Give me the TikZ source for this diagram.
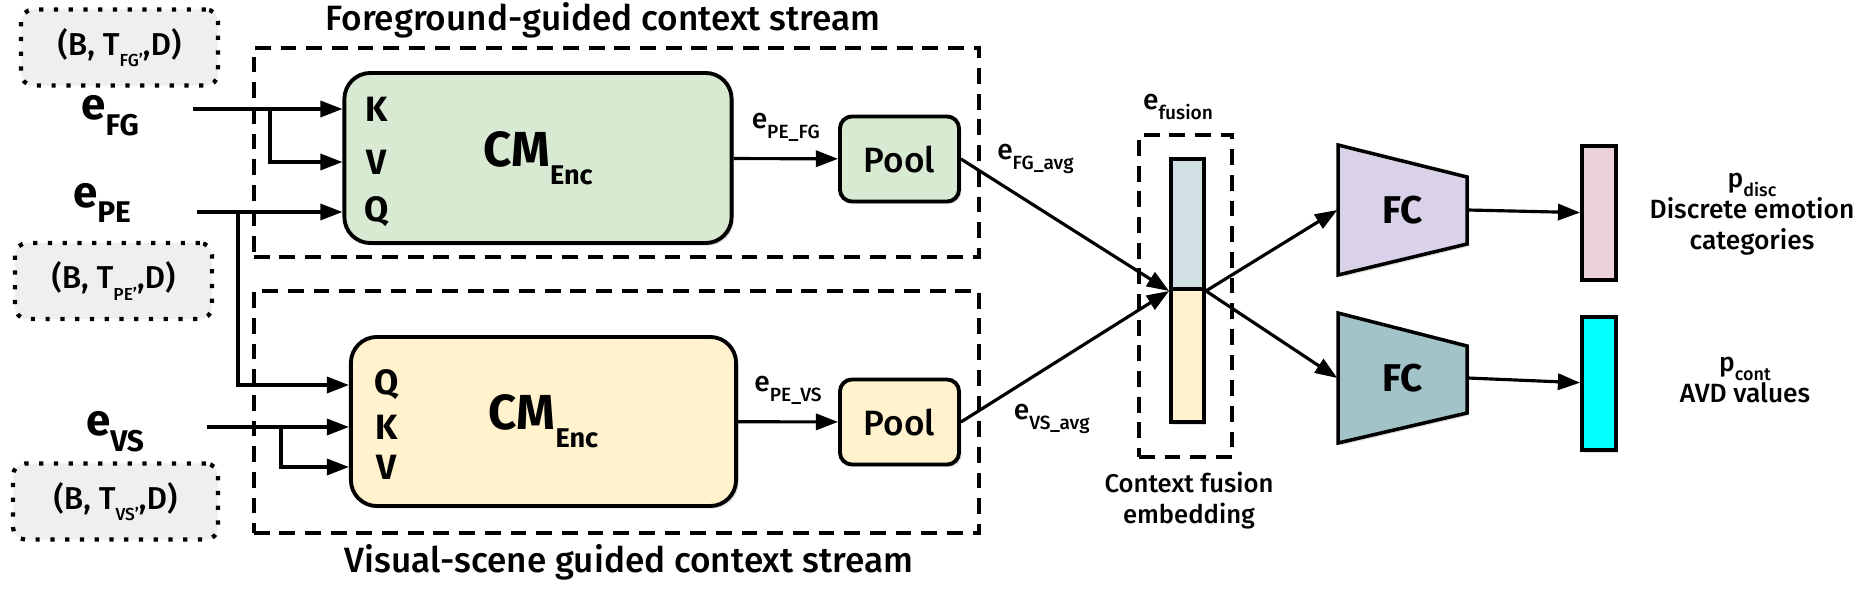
\documentclass[tikz,border=0pt]{standalone}
\usepackage{fontspec}
\setmainfont{Fira Sans Medium}[BoldFont={Fira Sans Bold}]
\usepackage{graphicx}
\usepackage{xcolor}
\usepackage{tikz}
\usetikzlibrary{arrows.meta,shadows}
\definecolor{encgreen}{HTML}{D9EAD3}
\definecolor{encyellow}{HTML}{FFF2CC}
\definecolor{fusionblue}{HTML}{D0E0E3}
\definecolor{tuplegray}{HTML}{EFEFEF}
\definecolor{fclav}{HTML}{D9D2E9}
\definecolor{fcteal}{HTML}{A2C4C9}
\definecolor{discpink}{HTML}{EAD1DC}
\definecolor{contcyan}{HTML}{00FFFF}
\newcommand{\lowsub}[2][0.68]{\raisebox{-0.36em}{\scalebox{#1}{#2}}}

\begin{document}
\begin{tikzpicture}[x=0.01cm,y=-0.01cm,
  >={Triangle[length=6.3pt,width=4.6pt]},
  arr/.style={->,line width=0.9pt},
  boxshadow/.style={drop shadow={shadow xshift=0.7pt,shadow yshift=-0.7pt,opacity=0.25}},
  tuple node/.style={rectangle,rounded corners=3.5pt,fill=tuplegray,draw,line width=1.2pt,dash pattern=on 1.2pt off 3pt,minimum width=1.97cm,minimum height=0.76cm,inner sep=0pt,font=\fontsize{9}{9}\selectfont},
  stream box/.style={rectangle,draw,line width=1.2pt,dash pattern=on 4.5pt off 2.8pt,minimum width=7.25cm,inner sep=0pt},
  title node/.style={inner sep=0pt,font=\fontsize{10}{10}\selectfont},
  input node/.style={inner sep=0pt,font=\bfseries\fontsize{12.5}{12.5}\selectfont},
  enc node/.style={rectangle,rounded corners=7.4pt,draw,line width=1.1pt,minimum width=3.87cm,minimum height=1.70cm,inner sep=0pt,font=\bfseries\fontsize{14}{14}\selectfont,boxshadow},
  port node/.style={inner sep=0pt,font=\bfseries\fontsize{10}{10}\selectfont},
  pool node/.style={rectangle,rounded corners=3.4pt,draw,line width=1.1pt,minimum width=1.19cm,minimum height=0.85cm,inner sep=0pt,font=\fontsize{10}{10}\selectfont,boxshadow},
  label font/.style={font=\fontsize{8}{8}\selectfont},
  caption node/.style={inner sep=0pt,align=center,font=\fontsize{7.5}{8.8}\selectfont},
  bar node/.style={rectangle,draw,line width=1.1pt,minimum width=0.33cm,inner sep=0pt,boxshadow},
  fc shape/.style={draw,line width=1pt,line join=miter,boxshadow},
  fc node/.style={minimum width=1.29cm,inner sep=0pt,font=\bfseries\fontsize{11}{11}\selectfont}]
  \useasboundingbox (0,0) rectangle (1869,591);

  \node[title node] (fgtitle) at (603,20) {Foreground-guided context stream};
  \node[title node] (vstitle) at (629,562) {Visual-scene guided context stream};
  \node[stream box,minimum height=2.09cm] (fgstream) at (616.5,152.5) {};
  \node[stream box,minimum height=2.42cm] (vsstream) at (616.5,412) {};

  \node[tuple node] (fgtuple) at (119.5,47.5) {(B, T\lowsub[0.55]{FG'},D)};
  \node[tuple node] (petuple) at (113.5,281) {(B, T\lowsub[0.55]{PE'},D)};
  \node[tuple node,minimum width=2.05cm] (vstuple) at (115.5,501.5) {(B, T\lowsub[0.55]{VS'},D)};

  \node[input node] (efg) at (110,116) {e\lowsub{FG}};
  \node[input node] (epe) at (102,203) {e\lowsub{PE}};
  \node[input node] (evs) at (115,432) {e\lowsub{VS}};

  \node[enc node,fill=encgreen] (enc1) at (538,158) {CM\lowsub[0.55]{Enc}};
  \node[enc node,fill=encyellow,minimum width=3.85cm,minimum height=1.69cm] (enc2) at (543.5,421.5) {CM\lowsub[0.55]{Enc}};
  \node[port node] (k1) at (377,109) {K};
  \node[port node] (v1) at (377,162) {V};
  \node[port node] (q1) at (377,212) {Q};
  \node[port node] (q2) at (387,385) {Q};
  \node[port node] (k2) at (387,427) {K};
  \node[port node] (v2) at (387,467) {V};

  \coordinate (fgin) at (193,109);
  \coordinate (fgsplit) at (270,109);
  \coordinate (pein) at (197,212);
  \coordinate (pesplit) at (238,212);
  \coordinate (vsin) at (207,427);
  \coordinate (vssplit) at (281,427);
  \draw[arr] (fgin) -- (fgin -| enc1.west);
  \draw[arr] (fgsplit) |- (v1 -| enc1.west);
  \draw[arr] (pein) -- (pein -| enc1.west);
  \draw[arr] (pesplit) |- (q2 -| enc2.west);
  \draw[arr] (vsin) -- (vsin -| enc2.west);
  \draw[arr] (vssplit) |- (v2 -| enc2.west);

  \node[pool node,fill=encgreen] (pool1) at (899.5,159) {Pool};
  \node[pool node,fill=encyellow] (pool2) at (899.5,422) {Pool};
  \path[arr]
    (enc1) edge node[above=1pt,label font] {e\lowsub{PE\_FG}} (pool1)
    (enc2) edge node[above=1pt,label font] {e\lowsub{PE\_VS}} (pool2);

  \node[stream box,minimum width=0.93cm,minimum height=3.22cm] (fusebox) at (1185.5,296) {};
  \node[bar node,fill=fusionblue,minimum height=1.30cm] (fusetop) at (1187.5,224) {};
  \node[bar node,fill=encyellow,minimum height=1.33cm] (fusebottom) at (1187.5,355.5) {};
  \node[label font,inner sep=0pt] (efusion) at (1178,107) {e\lowsub{fusion}};
  \node[caption node,font=\fontsize{7.3}{8.8}\selectfont] (fusecap) at (1189,501) {Context fusion\\embedding};

  \path[arr]
    (pool1.east) edge node[pos=0.15,anchor=south west,inner sep=1pt,label font] {e\lowsub{FG\_avg}} (fusetop.south west)
    (pool2.east) edge node[pos=0.23,anchor=north west,inner sep=1pt,yshift=-2pt,label font] {e\lowsub{VS\_avg}} (fusetop.south west);

  \draw[fc shape,fill=fclav] (1338,145) -- (1467,177) -- (1467,244) -- (1338,275) -- cycle;
  \draw[fc shape,fill=fcteal] (1338,313) -- (1467,346) -- (1467,413) -- (1338,443) -- cycle;
  \node[fc node] (fc1) at (1402.5,210) {FC};
  \node[fc node] (fc2) at (1402.5,378) {FC};
  \path[arr]
    (fusetop.south east) edge (fc1.west)
    (fusetop.south east) edge (fc2.west);

  \node[bar node,fill=discpink,minimum width=0.34cm,minimum height=1.34cm] (disc) at (1599,213) {};
  \node[bar node,fill=contcyan,minimum width=0.34cm,minimum height=1.33cm] (cont) at (1599,383.5) {};
  \path[arr]
    (fc1.east) edge (disc)
    (fc2.east) edge (cont);

  \node[caption node] (disclabel) at (1752,214) {p\lowsub{disc}\\Discrete emotion\\categories};
  \node[caption node] (contlabel) at (1745,380) {p\lowsub{cont}\\AVD values};
\end{tikzpicture}
\end{document}
